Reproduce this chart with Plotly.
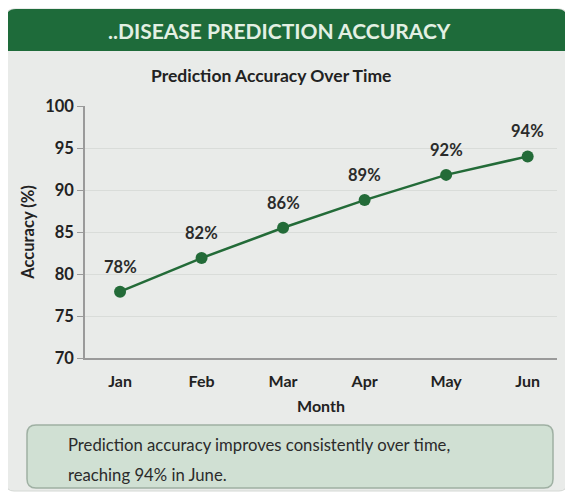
import plotly.graph_objects as go

months = ["Jan", "Feb", "Mar", "Apr", "May", "Jun"]
accuracy = [77.9, 81.9, 85.5, 88.8, 91.8, 94.0]
labels = ["78%", "82%", "86%", "89%", "92%", "94%"]
y_ticks = [70, 75, 80, 85, 90, 95, 100]
note_lines = ["Prediction accuracy improves consistently over time,", "reaching 94% in June."]

# page body has an 8px margin; figure is sized to fill the remaining window
OFF = 8
W, H = 573 - OFF, 493 - OFF
L, R, T, B = 85, 557, 106, 358  # target window pixel positions of plot area

def px(x):
    return (x - L) / (R - L)

def py(y):
    return (B - y) / (B - T)

green = "#1e6b3a"
line_green = "#236b38"
dark = "#222222"
font = "Lato"

fig = go.Figure()
fig.add_trace(go.Scatter(
    x=list(range(len(months))), y=accuracy,
    mode="lines+markers",
    line=dict(color=line_green, width=2.5),
    marker=dict(color=line_green, size=12),
    cliponaxis=False, hoverinfo="skip", showlegend=False,
))

def rounded_rect(x0, y0, x1, y1, r, top_only=False):
    X = lambda v: px(v)
    Y = lambda v: py(v)
    if top_only:
        return (f"M {X(x0)},{Y(y1)} L {X(x0)},{Y(y0+r)} Q {X(x0)},{Y(y0)} {X(x0+r)},{Y(y0)} "
                f"L {X(x1-r)},{Y(y0)} Q {X(x1)},{Y(y0)} {X(x1)},{Y(y0+r)} L {X(x1)},{Y(y1)} Z")
    return (f"M {X(x0+r)},{Y(y0)} L {X(x1-r)},{Y(y0)} Q {X(x1)},{Y(y0)} {X(x1)},{Y(y0+r)} "
            f"L {X(x1)},{Y(y1-r)} Q {X(x1)},{Y(y1)} {X(x1-r)},{Y(y1)} L {X(x0+r)},{Y(y1)} "
            f"Q {X(x0)},{Y(y1)} {X(x0)},{Y(y1-r)} L {X(x0)},{Y(y0+r)} Q {X(x0)},{Y(y0)} {X(x0+r)},{Y(y0)} Z")

shapes = [
    dict(type="path", xref="paper", yref="paper", path=rounded_rect(6, 9, 567, 491, 8),
         fillcolor="#e9ebe9", line=dict(color="#d4d8d4", width=1), layer="below"),
    dict(type="path", xref="paper", yref="paper", path=rounded_rect(6, 9, 567, 51, 10, top_only=True),
         fillcolor=green, line=dict(width=0), layer="below"),
    dict(type="path", xref="paper", yref="paper", path=rounded_rect(27, 425, 553, 488, 9),
         fillcolor="#d0e0d3", line=dict(color="#9fb0a3", width=1.5), layer="below"),
]

annotations = [
    dict(text="..DISEASE PREDICTION ACCURACY", x=px(279), y=py(31), xref="paper", yref="paper",
         showarrow=False, font=dict(family=font, size=21, color="#e3f0e3", weight="bold"),
         xanchor="center", yanchor="middle"),
    dict(text="Prediction Accuracy Over Time", x=px(271), y=py(75), xref="paper", yref="paper",
         showarrow=False, font=dict(family=font, size=17.5, color=dark, weight="bold"),
         xanchor="center", yanchor="middle"),
]
for i, line in enumerate(note_lines):
    annotations.append(dict(text=line, x=px(66), y=py(445 + 30 * i), xref="paper", yref="paper",
                            showarrow=False, align="left",
                            font=dict(family=font, size=16.7, color="#2b2b2b"),
                            xanchor="left", yanchor="middle"))
for i, (v, lab) in enumerate(zip(accuracy, labels)):
    annotations.append(dict(text=lab, x=i, y=v, xref="x", yref="y", showarrow=False,
                            yshift=25, xanchor="center", yanchor="middle",
                            font=dict(family=font, size=16.5, color="#2b2b2b", weight="bold")))

fig.update_layout(
    width=W, height=H,
    margin=dict(l=L - OFF, r=573 - R, t=T - OFF, b=493 - B),
    paper_bgcolor="white", plot_bgcolor="rgba(0,0,0,0)",
    shapes=shapes, annotations=annotations,
    xaxis=dict(
        tickmode="array", tickvals=list(range(len(months))), ticktext=months,
        range=[-0.43, 5.36], showgrid=False, zeroline=False,
        showline=True, linecolor="#9a9a9a", linewidth=1.5,
        tickfont=dict(family=font, size=16, color=dark, weight="bold"),
        ticklabelstandoff=8,
        title=dict(text="Month", font=dict(family=font, size=16, color=dark, weight="bold"), standoff=12),
        ticks="", fixedrange=True,
    ),
    yaxis=dict(
        range=[70, 100], tickmode="array", tickvals=y_ticks,
        showgrid=True, gridcolor="#d9dcd9", gridwidth=1, zeroline=False,
        showline=True, linecolor="#9a9a9a", linewidth=1.5,
        ticks="outside", ticklen=6, tickcolor="#9a9a9a",
        tickfont=dict(family=font, size=16.5, color=dark, weight="bold"),
        title=dict(text="Accuracy (%)", font=dict(family=font, size=16.5, color=dark, weight="bold"), standoff=6),
        fixedrange=True,
    ),
)

fig.write_html("out.html")
